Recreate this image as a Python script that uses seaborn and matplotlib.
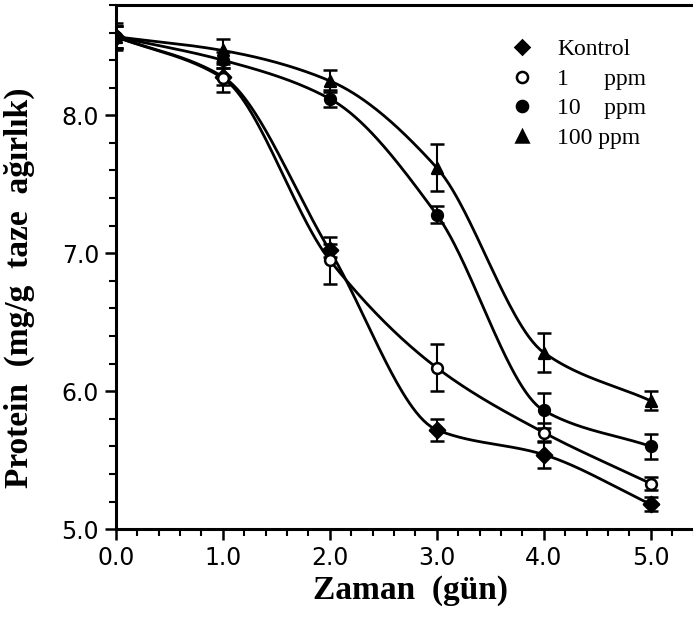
import numpy as np
import pandas as pd
import matplotlib
matplotlib.use("Agg")
import matplotlib.pyplot as plt
import seaborn as sns
from matplotlib.ticker import MultipleLocator, FormatStrFormatter
from matplotlib.lines import Line2D

days = [0.0, 1.0, 2.0, 3.0, 4.0, 5.0]
series_names = ["Kontrol", "1      ppm", "10    ppm", "100 ppm"]
kontrol = [8.57, 8.28, 7.02, 5.72, 5.54, 5.18]
ppm1 = [8.57, 8.27, 6.95, 6.17, 5.70, 5.33]
ppm10 = [8.57, 8.40, 8.12, 7.28, 5.86, 5.60]
ppm100 = [8.57, 8.47, 8.25, 7.62, 6.28, 5.93]
err_kontrol = [0.08, 0.06, 0.05, 0.08, 0.10, 0.05]
err_ppm1 = [0.08, 0.10, 0.17, 0.17, 0.07, 0.05]
err_ppm10 = [0.08, 0.06, 0.06, 0.06, 0.13, 0.09]
err_ppm100 = [0.10, 0.08, 0.08, 0.17, 0.14, 0.07]
markers = ["D", "o", "o", "^"]
facecolors = ["black", "white", "black", "black"]

values = [kontrol, ppm1, ppm10, ppm100]
errors = [err_kontrol, err_ppm1, err_ppm10, err_ppm100]


def pchip(x, y, xs):
    x = np.asarray(x, float); y = np.asarray(y, float)
    h = np.diff(x); d = np.diff(y) / h
    n = len(x); m = np.zeros(n)
    for k in range(1, n - 1):
        if d[k - 1] * d[k] > 0:
            w1 = 2 * h[k] + h[k - 1]; w2 = h[k] + 2 * h[k - 1]
            m[k] = (w1 + w2) / (w1 / d[k - 1] + w2 / d[k])
    m[0] = d[0]; m[-1] = d[-1]
    out = np.empty_like(xs)
    for i, xv in enumerate(xs):
        k = min(np.searchsorted(x, xv, side="right") - 1, n - 2)
        t = (xv - x[k]) / h[k]
        h00 = 2 * t**3 - 3 * t**2 + 1; h10 = t**3 - 2 * t**2 + t
        h01 = -2 * t**3 + 3 * t**2; h11 = t**3 - t**2
        out[i] = h00 * y[k] + h10 * h[k] * m[k] + h01 * y[k + 1] + h11 * h[k] * m[k + 1]
    return out


sns.set_style("ticks")
plt.rcParams["text.color"] = "black"
plt.rcParams["axes.labelcolor"] = "black"
fig = plt.figure(figsize=(6.93, 6.21), dpi=100)
ax = fig.add_axes([0.167, 0.148, 0.840, 0.844])

xs = np.linspace(days[0], days[-1], 300)
for name, v, e, mk, fc in zip(series_names, values, errors, markers, facecolors):
    ax.plot(xs, pchip(days, v, xs), color="black", lw=2.0, zorder=2)
    ax.errorbar(days, v, yerr=e, fmt="none", ecolor="black", elinewidth=1.5,
                capsize=5, capthick=1.8, zorder=3)
    df = pd.DataFrame({"x": days, "y": v})
    sns.scatterplot(data=df, x="x", y="y", marker=mk, s=60, color=fc,
                    edgecolor="black", linewidth=1.8, ax=ax, zorder=4, legend=False)

ax.set_xlim(0, 5.44)
ax.set_ylim(5.0, 8.80)
ax.xaxis.set_major_locator(MultipleLocator(1.0))
ax.xaxis.set_minor_locator(MultipleLocator(0.2))
ax.yaxis.set_major_locator(MultipleLocator(1.0))
ax.yaxis.set_minor_locator(MultipleLocator(0.2))
ax.xaxis.set_major_formatter(FormatStrFormatter("%.1f"))
ax.yaxis.set_major_formatter(FormatStrFormatter("%.1f"))
ax.tick_params(which="major", direction="out", length=8, width=1.8, labelsize=17,
               colors="black", pad=4)
ax.tick_params(which="minor", direction="out", length=5, width=1.5, colors="black")
for s in ["left", "bottom", "top"]:
    ax.spines[s].set_linewidth(2.2)
    ax.spines[s].set_color("black")
ax.spines["right"].set_visible(False)

serif = ["Liberation Serif", "DejaVu Serif"]
ax.set_xlabel("Zaman  (gün)", fontsize=24, fontweight="bold", family=serif, color="black")
ax.set_ylabel("Protein  (mg/g  taze  ağırlık)", fontsize=24, fontweight="bold",
              family=serif, color="black")
ax.xaxis.set_label_coords(0.507, -0.088)
ax.yaxis.set_label_coords(-0.139, 0.46)

handles = [Line2D([], [], linestyle="none", marker=mk, markersize=8 if mk != "D" else 7,
                  markerfacecolor=fc, markeredgecolor="black", markeredgewidth=1.8)
           for mk, fc in zip(markers, facecolors)]
leg = ax.legend(handles, series_names, loc="upper left", bbox_to_anchor=(0.641, 0.976),
                frameon=False, handlelength=1.0, handletextpad=1.0, labelspacing=0.34,
                prop={"family": ["Liberation Serif"], "size": 17})
for t in leg.get_texts():
    t.set_color("black")

fig.savefig("out.png", dpi=100)
